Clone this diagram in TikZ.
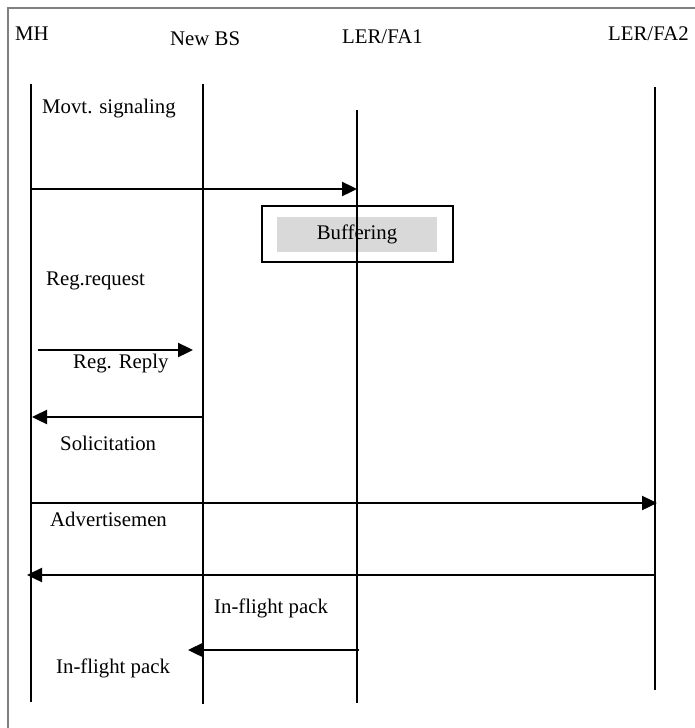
\documentclass[tikz,border=0pt]{standalone}
\usepackage{fontspec}
\setmainfont{Liberation Serif}
\usetikzlibrary{arrows.meta}
\definecolor{framegray}{RGB}{128,128,128}
\definecolor{bufgray}{RGB}{217,217,217}
\begin{document}
\begin{tikzpicture}[x=1pt,y=-1pt,
  lbl/.style={anchor=base west,inner sep=0pt,font=\fontsize{20.8}{24}\selectfont},
  life/.style={line width=2.4pt,black},
  msg/.style={line width=2.4pt,black,-{Triangle[length=15pt,width=14pt]}},
  frame/.style={line width=1.6pt,draw=framegray},
]
\useasboundingbox (0,0) rectangle (695,728);
% outer frame, running off the right and bottom edges
\draw[frame] (8,740) -- (8,8) -- (710,8);

% participant names
\node[lbl] (nmh)  at (15,40)  {MH};
\node[lbl] (nbs)  at (170,45) {New BS};
\node[lbl] (nfa1) at (342,43) {LER/FA1};
\node[lbl] (nfa2) at (608,40) {LER/FA2};

% lifeline end points
\coordinate (mhT) at (31,84);   \coordinate (mhB) at (31,702);
\coordinate (bsT) at (203,84);  \coordinate (bsB) at (203,704);
\coordinate (f1T) at (357,110); \coordinate (f1B) at (357,703);
\coordinate (f2T) at (655,87);  \coordinate (f2B) at (655,690);

% buffering box at LER/FA1
\node[draw,line width=2.4pt,minimum width=191pt,minimum height=56pt,inner sep=0pt] (bufbox) at (357.5,234) {};
\node[fill=bufgray,minimum width=160pt,minimum height=35pt,inner sep=0pt,
      font=\fontsize{20.8}{24}\selectfont] (buf) at (357,234.5) {Buffering};

% lifelines
\draw[life] (mhT) -- (mhB);
\draw[life] (bsT) -- (bsB);
\draw[life] (f1T) -- (f1B);
\draw[life] (f2T) -- (f2B);

% message labels
\node[lbl] (tmov) at (42,113)  {Movt. signaling};
\node[lbl] (treq) at (46,285)  {Reg.request};
\node[lbl] (trep) at (73,368)  {Reg. Reply};
\node[lbl] (tsol) at (60,450)  {Solicitation};
\node[lbl] (tadv) at (50,526)  {Advertisemen};
\node[lbl] (tif1) at (214,613) {In-flight pack};
\node[lbl] (tif2) at (56,673)  {In-flight pack};

% message end points
\coordinate (a1s) at (31,189);  \coordinate (a1e) at (357,189);
\coordinate (a2s) at (38,350);  \coordinate (a2e) at (193,350);
\coordinate (a3s) at (203,417); \coordinate (a3e) at (32,417);
\coordinate (a4s) at (31,503);  \coordinate (a4e) at (657,503);
\coordinate (a5s) at (655,575); \coordinate (a5e) at (27,575);
\coordinate (a6s) at (359,650); \coordinate (a6e) at (188,650);

% messages
\draw[msg] (a1s) -- (a1e);
\draw[msg] (a2s) -- (a2e);
\draw[msg] (a3s) -- (a3e);
\draw[msg] (a4s) -- (a4e);
\draw[msg] (a5s) -- (a5e);
\draw[msg] (a6s) -- (a6e);
\end{tikzpicture}
\end{document}
